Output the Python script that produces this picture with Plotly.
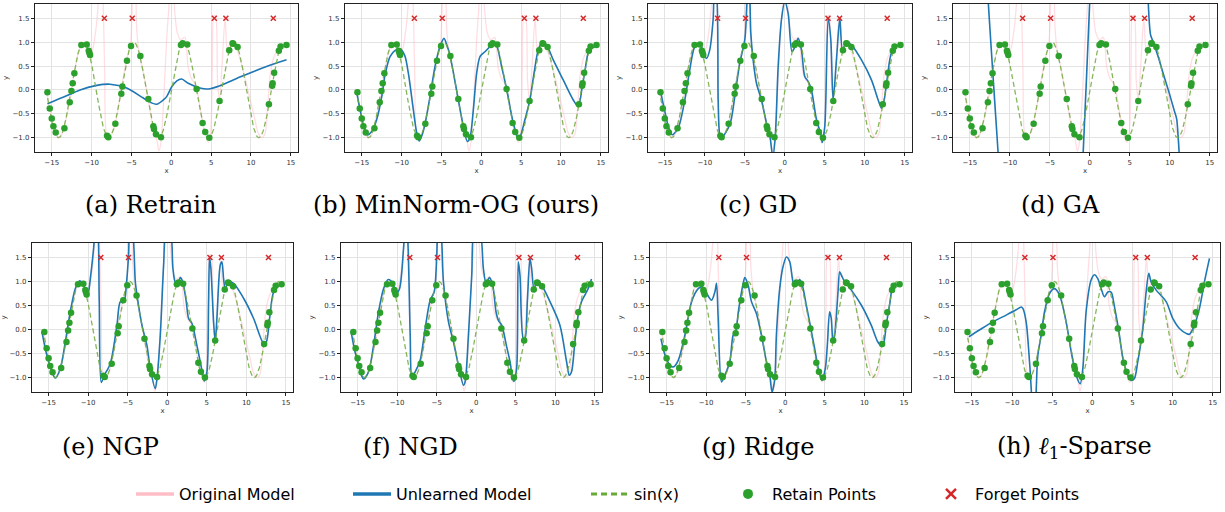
import numpy as np
import plotly.graph_objects as go

# ---------------- data ----------------
retain_x = [-15.54, -15.25, -15.0, -14.79, -14.5, -13.41, -12.74, -12.53, -12.37, -12.16,
            -11.28, -10.61, -10.36, -10.28, -10.19, -8.06, -7.9, -7.02, -6.27, -6.14,
            -5.56, -5.05, -3.88, -2.88, -2.25, -2.17, -1.92, -1.29, 1.21, 1.42,
            2.01, 3.18, 3.93, 4.26, 4.77, 6.06, 7.27, 7.69, 7.77, 8.32,
            12.25, 12.66, 12.71, 12.91, 13.5, 13.71, 14.46]
retain_y = [-0.05, -0.39, -0.60, -0.76, -0.89, -0.80, -0.26, -0.02, 0.14, 0.35,
            0.94, 0.95, 0.82, 0.78, 0.73, -0.96, -0.99, -0.71, -0.08, 0.07,
            0.61, 0.92, 0.71, -0.19, -0.76, -0.82, -0.93, -0.99, 0.94, 0.98,
            0.95, 0.02, -0.69, -0.88, -1.0, -0.23, 0.83, 0.98, 0.97, 0.90,
            -0.30, 0.09, 0.14, 0.36, 0.82, 0.91, 0.94]

forget_x = [-8.4, -4.9, 5.4, 6.85, 12.8]
forget_y = [1.5, 1.5, 1.5, 1.5, 1.5]

sin_x = np.linspace(-15.7, 14.5, 600)
sin_y = np.sin(sin_x)

orig_x = [-15.6, -15.2, -14.8, -14.4, -14.1, -13.7, -13.2, -12.7, -12.2, -11.7, -11.2, -10.8,
          -10.4, -10.1, -9.8, -9.4, -9.0, -8.7, -8.5, -8.35, -8.2, -7.9, -7.4, -7.0, -6.5,
          -6.0, -5.5, -5.15, -4.95, -4.8, -4.55, -4.35, -4.05, -3.6, -3.0, -2.5, -2.1, -1.8,
          -1.55, -1.3, -0.95, -0.6, -0.35, -0.1, 0.2, 0.45, 0.75, 1.2, 1.7, 2.1, 2.5, 2.9,
          3.3, 3.7, 4.2, 4.65, 4.95, 5.15, 5.35, 5.55, 5.8, 6.05, 6.4, 6.75, 7.05, 7.5, 8.2,
          8.8, 9.4, 9.9, 10.4, 10.9, 11.35, 11.75, 12.05, 12.4, 12.8, 13.2, 13.6, 14.0, 14.5]
orig_y = [-0.05, -0.45, -0.77, -0.97, -1.0, -0.92, -0.6, -0.22, 0.33, 0.75, 0.97, 0.98,
          0.82, 0.75, 0.9, 1.35, 2.1, 2.4, 1.5, 0.3, -0.85, -1.0, -0.9, -0.68, -0.22,
          0.28, 0.7, 0.9, 1.5, 2.2, 2.3, 1.3, 0.8, 0.45, -0.1, -0.6, -0.88, -1.05,
          -1.28, -1.1, -0.2, 1.0, 1.6, 2.0, 2.0, 1.6, 1.2, 1.05, 1.1, 0.5, 0.25, 0.15,
          -0.05, -0.45, -0.88, -1.1, -0.85, 0.5, 1.55, 1.55, 0.2, -0.2, 0.6, 1.5, 0.85, 1.0, 0.85,
          0.55, 0.15, -0.2, -0.55, -0.9, -1.0, -0.92, -0.45, 0.3, 0.65, 0.8, 0.9, 0.95, 0.95]

retrain_x = [-15.54, -13.5, -11.45, -9.5, -7.69, -5.6, -3.51, -2.5, -1.84, -1.0, -0.58,
             0.04, 0.7, 1.3, 2.13, 3.6, 4.64, 6.1, 8.61, 11.95, 14.46]
retrain_y = [-0.29, -0.15, 0.0, 0.09, 0.12, 0.04, -0.17, -0.27, -0.30, -0.21, -0.14,
             0.06, 0.19, 0.23, 0.14, 0.04, 0.02, 0.09, 0.27, 0.49, 0.63]

minnorm_x = [-15.63, -15.2, -14.79, -14.29, -13.75, -13.12, -12.49, -12.07, -11.45, -10.8,
             -10.2, -9.6, -9.15, -8.52, -8.1, -7.77, -7.4, -7.06, -6.43, -5.81, -5.18,
             -4.68, -4.26, -3.93, -2.88, -2.25, -1.75, -1.42, -1.0, -0.58, -0.16, 0.46,
             1.09, 1.51, 1.92, 2.55, 3.18, 4.01, 4.64, 4.85, 5.48, 6.1, 6.6, 7.15, 7.65,
             8.28, 9.03, 10.28, 11.54, 12.16, 12.7, 13.0, 13.41, 13.83, 14.46]
minnorm_y = [-0.05, -0.42, -0.73, -0.94, -0.87, -0.62, -0.14, 0.32, 0.70, 0.83,
             0.86, 0.72, 0.35, -0.42, -0.90, -1.07, -0.93, -0.71, -0.14, 0.49, 0.91,
             1.08, 0.91, 0.73, -0.21, -0.76, -1.08, -1.0, -0.42, 0.35, 0.70, 0.80,
             0.91, 1.0, 0.94, 0.49, 0.02, -0.69, -1.01, -0.99, -0.62, -0.21, 0.33, 0.84, 1.0,
             0.91, 0.63, 0.21, -0.21, -0.35, 0.11, 0.39, 0.77, 0.87, 0.92]

gd_x = [-15.5, -15.0, -14.5, -14.08, -13.33, -12.5, -11.88, -11.25, -10.63, -10.2, -9.79,
        -9.38, -8.96, -8.75, -8.6, -8.33, -8.13, -7.92, -6.88, -6.25, -5.63, -5.0, -4.79,
        -4.6, -4.4, -4.25, -3.96, -3.54, -2.92, -2.29, -1.88, -1.5, -1.2, -0.83, -0.42,
        0.0, 0.42, 0.9, 1.25, 1.67, 2.08, 2.5, 2.92, 3.33, 3.96, 4.58, 4.67, 5.0, 5.42,
        5.75, 6.04, 6.46, 6.88, 7.21, 7.71, 8.33, 9.58, 10.83, 11.67, 12.08, 12.42, 12.83,
        13.33, 14.17, 14.5]
gd_y = [-0.05, -0.45, -0.80, -0.94, -0.80, -0.21, 0.42, 0.91, 0.98, 0.80, 0.66,
        0.84, 1.47, 2.1, 2.1, -0.21, -0.94, -1.0, -0.73, -0.14, 0.56, 1.05, 1.6,
        2.2, 2.0, 1.19, 0.63, 0.14, -0.21, -0.69, -0.94, -1.4, -1.0, 0.49, 1.47,
        1.85, 1.6, 0.80, 0.90, 1.08, 0.84, 0.28, 0.18, 0.0, -0.62, -0.97, -1.1, -0.76, 1.5,
        1.05, -0.21, 0.63, 1.5, 0.84, 1.0, 0.94, 0.63, 0.21, -0.21, -0.38, -0.21, 0.28,
        0.77, 0.94, 0.96]

ga_x = [-13.0, -12.71, -12.1, -11.46, -11.2, None,
        -1.0, -0.83, -0.4, 0.0, 0.15, None,
        7.15, 7.29, 7.6, 7.9, 8.5, 9.2, 9.9, 10.5, 10.85, 11.05, 11.17, 11.3]
ga_y = [2.8, 1.88, 0.3, -1.32, -2.0, None,
        -2.0, -1.32, 0.3, 1.88, 2.4, None,
        2.6, 1.88, 1.15, 1.02, 0.72, 0.33, -0.05, -0.4, -0.6, -1.0, -1.32, -1.8]

ngp_x = [-15.84, -15.42, -15.0, -14.58, -14.16, -13.52, -12.89, -12.26, -11.63, -11.12,
         -10.66, -10.24, -10.05, -9.7, -9.31, -9.0, -8.8, -8.6, -8.34, -7.96, -7.2, -6.36,
         -5.94, -5.43, -5.18, -4.89, -4.7, -4.4, -4.04, -3.83, -3.2, -2.57, -2.15, -1.52,
         -1.3, -0.88, -0.46, -0.1, 0.4, 0.72, 1.01, 1.35, 1.65, 1.98, 2.4, 2.7, 3.12, 3.75,
         4.17, 4.6, 4.68, 5.02, 5.23, 5.35, 5.52, 5.86, 6.07, 6.28, 6.7, 6.91, 7.12, 7.33,
         7.76, 8.39, 9.65, 10.92, 12.18, 12.52, 12.94, 13.45, 14.29, 14.71]
ngp_y = [-0.05, -0.40, -0.67, -0.88, -1.01, -0.81, -0.26, 0.37, 0.85, 1.01,
         0.96, 0.75, 0.72, 1.1, 1.69, 2.3, 2.2, 0.6, -1.1, -0.95, -0.71, 0.09,
         0.58, 0.61, 0.92, 1.55, 2.2, 2.1, 1.0, 0.72, 0.09, -0.33, -0.81, -1.23,
         -1.02, -0.12, 1.34, 2.2, 2.1, 1.27, 0.99, 0.96, 1.08, 0.98, 0.58, 0.23, 0.13, -0.33,
         -0.67, -1.02, -1.07, -0.88, 0.58, 1.51, 1.27, 0.16, -0.26, 0.23, 1.34, 1.41, 1.06, 0.85,
         0.99, 0.96, 0.65, 0.23, -0.29, -0.26, 0.23, 0.78, 0.94, 0.96]

ngd_x = [-15.84, -15.42, -15.0, -14.58, -14.24, -13.61, -12.98, -12.35, -11.72, -11.13,
         -10.54, -10.12, -9.7, -9.19, -8.95, -8.7, -8.35, -8.14, -7.72, -7.09, -6.46, -5.83,
         -5.32, -4.99, -4.8, -4.5, -4.15, -3.51, -2.88, -2.25, -1.62, -1.41, -0.99, -0.57,
         -0.2, 0.4, 0.9, 1.24, 1.66, 2.08, 2.5, 2.8, 3.22, 3.85, 4.27, 4.6, 4.77, 5.11, 5.32,
         5.53, 5.95, 6.16, 6.46, 6.79, 7.0, 7.3, 7.72, 8.27, 9.32, 10.58, 11.42, 11.76, 12.05,
         12.47, 12.89, 13.31, 14.15, 14.57]
ngd_y = [-0.03, -0.40, -0.67, -0.92, -1.03, -0.88, -0.33, 0.37, 0.85, 1.04,
         0.96, 0.75, 0.85, 1.69, 2.3, 2.0, -0.12, -0.99, -0.88, -0.64, 0.02, 0.61,
         0.78, 1.55, 2.2, 2.1, 1.0, 0.16, -0.26, -0.74, -1.16, -1.09, -0.12, 1.13,
         2.1, 2.1, 1.27, 0.96, 1.08, 0.92, 0.37, 0.19, 0.09, -0.36, -0.67, -1.02, -1.08, -0.81, 1.41,
         1.13, -0.19, -0.19, 0.58, 1.48, 1.27, 0.85, 1.01, 0.92, 0.58, 0.09, -0.67, -0.95, -0.88,
         -0.26, 0.3, 0.58, 0.85, 1.05]

ridge_x = [-15.72, -15.21, -14.58, -14.16, -13.53, -12.69, -11.84, -11.0, -10.5, -9.95,
           -9.32, -8.9, -8.69, -8.48, -8.06, -7.64, -7.01, -6.59, -6.29, -5.87, -5.32,
           -5.11, -4.69, -4.27, -3.64, -3.01, -2.38, -1.96, -1.67, -1.33, -1.12, -0.7,
           -0.28, 0.15, 0.57, 0.99, 1.28, 1.62, 1.83, 2.16, 2.67, 3.09, 3.72, 4.23, 4.65,
           5.07, 5.32, 5.61, 5.82, 6.03, 6.25, 6.67, 6.88, 7.18, 7.52, 8.36, 9.61, 10.87,
           11.71, 12.13, 12.47, 12.77, 13.19, 13.61, 14.16, 14.66]
ridge_y = [-0.19, -0.53, -0.74, -0.78, -0.64, -0.12, 0.58, 0.85, 0.89, 0.75,
           0.61, 0.78, 0.96, 0.23, -1.09, -0.95, -0.67, -0.12, -0.05, 0.44, 0.96,
           1.08, 0.92, 0.58, 0.33, -0.12, -0.67, -0.95, -1.3, -1.03, -0.12, 0.85,
           1.31, 1.51, 1.41, 0.99, 0.92, 0.99, 1.04, 0.92, 0.5, 0.15, -0.4, -0.85, -1.06,
           -0.81, -0.33, 0.37, 0.23, -0.26, -0.12, 0.78, 1.2, 1.1, 0.99, 0.82, 0.51, 0.09,
           -0.26, -0.33, -0.26, 0.09, 0.51, 0.89, 0.94, 0.96]

sparse_x = [-15.37, -14.05, -12.39, -10.73, -9.48, -8.86, -8.65, -8.24, -7.82, -7.61, -7.3,
            -7.0, -6.78, -6.37, -5.95, -5.33, -4.71, -4.09, -3.26, -2.63, -2.01, -1.51,
            -1.18, -0.77, -0.15, 0.27, 0.68, 1.1, 1.51, 1.93, 2.34, 2.76, 3.38, 3.8, 4.42,
            4.83, 5.24, 5.66, 6.29, 6.7, 7.03, 7.32, 7.95, 9.19, 10.02, 10.85, 11.68, 12.1,
            12.72, 13.34, 13.96, 14.59]
sparse_y = [-0.15, -0.01, 0.16, 0.30, 0.41, 0.47, 0.44, 0.16, -0.67, -1.23, -2.2,
            -1.3, -0.53, -0.12, 0.37, 0.75, 0.85, 0.72, 0.16, -0.46, -0.95, -1.13,
            -0.81, 0.37, 1.03, 1.14, 1.06, 0.85, 0.68, 0.78, 0.78, 0.47, -0.12, -0.6, -0.95,
            -1.06, -1.02, -0.67, 0.02, 0.78, 1.17, 0.99, 0.82, 0.58, 0.23, 0.02, -0.08, -0.1,
            0.09, 0.44, 0.99, 1.48]

captions = ["(a) Retrain", "(b) MinNorm-OG (ours)", "(c) GD", "(d) GA",
            "(e) NGP", "(f) NGD", "(g) Ridge", "(h) <i>ℓ</i><sub>1</sub>-Sparse"]
panel_curves = [(retrain_x, retrain_y), (minnorm_x, minnorm_y), (gd_x, gd_y), (ga_x, ga_y),
                (ngp_x, ngp_y), (ngd_x, ngd_y), (ridge_x, ridge_y), (sparse_x, sparse_y)]
x_ticks = [-15, -10, -5, 0, 5, 10, 15]
y_ticks = [-1.0, -0.5, 0.0, 0.5, 1.0, 1.5]

# ---------------- layout geometry (pixels) ----------------
W, H = 1225, 512
boxes = [(35, 298, 4, 152), (345, 608, 4, 152), (648, 912, 4, 152), (953, 1217, 4, 152),
         (32, 293, 243, 392), (341, 602, 243, 392), (650, 911, 243, 392), (955, 1220, 243, 392)]
cap_pos = [(151, 205), (456, 205), (758, 205), (1060, 205),
           (110, 447), (410, 447), (758, 447), (1074, 447)]

BLUE = '#1f77b4'
PINK_LINE = 'rgba(255,182,193,0.45)'
SIN_COL = 'rgba(110,170,60,0.85)'
GREEN = '#2ca02c'
RED = '#d62728'

fig = go.Figure()
layout = dict(width=W, height=H, margin=dict(l=0, r=0, t=0, b=0, autoexpand=False),
              paper_bgcolor='white', plot_bgcolor='white', showlegend=True)

tickfont = dict(family='DejaVu Sans', size=7, color='#333')
for i, (bx0, bx1, by0, by1) in enumerate(boxes):
    k = '' if i == 0 else str(i + 1)
    xa, ya = 'x' + k, 'y' + k
    cx, cy = panel_curves[i]
    fig.add_trace(go.Scatter(x=orig_x, y=orig_y, mode='lines', line=dict(color=PINK_LINE, width=1.3, shape='spline', smoothing=0.8),
                             xaxis=xa, yaxis=ya, showlegend=False, hoverinfo='skip'))
    fig.add_trace(go.Scatter(x=cx, y=cy, mode='lines', line=dict(color=BLUE, width=1.6, shape='spline', smoothing=0.8),
                             xaxis=xa, yaxis=ya, showlegend=False, connectgaps=False))
    fig.add_trace(go.Scatter(x=sin_x, y=sin_y, mode='lines', line=dict(color=SIN_COL, width=1.3, dash='5px,3px'),
                             xaxis=xa, yaxis=ya, showlegend=False))
    fig.add_trace(go.Scatter(x=retain_x, y=retain_y, mode='markers', marker=dict(color=GREEN, size=6.5),
                             xaxis=xa, yaxis=ya, showlegend=False))
    fig.add_trace(go.Scatter(x=forget_x, y=forget_y, mode='markers',
                             marker=dict(symbol='x-thin', size=5, line=dict(color=RED, width=1.5), color=RED),
                             xaxis=xa, yaxis=ya, showlegend=False))
    axx = dict(domain=[bx0 / W, bx1 / W], range=[-17.1, 15.9], anchor=ya, tickvals=x_ticks,
               ticktext=[str(t).replace('-', '−') for t in x_ticks], automargin=False,
               showline=True, mirror=True, linecolor='#222', linewidth=1.2, ticks='outside', ticklen=3,
               tickcolor='#222', tickfont=tickfont, showgrid=True, gridcolor='#e3e3e3', gridwidth=1,
               zeroline=False, title=dict(text='x', font=dict(family='DejaVu Sans', size=7, color='#333'), standoff=2))
    axy = dict(domain=[1 - by1 / H, 1 - by0 / H], range=[-1.3, 1.8], anchor=xa, tickvals=y_ticks,
               ticktext=[f'{t:.1f}'.replace('-', '−') for t in y_ticks], automargin=False,
               showline=True, mirror=True, linecolor='#222', linewidth=1.2, ticks='outside', ticklen=3,
               tickcolor='#222', tickfont=tickfont, showgrid=True, gridcolor='#e3e3e3', gridwidth=1,
               zeroline=False, title=dict(text='y', font=dict(family='DejaVu Sans', size=7, color='#333'), standoff=3))
    layout['xaxis' + k] = axx
    layout['yaxis' + k] = axy

annotations = []
for (px, py), txt in zip(cap_pos, captions):
    annotations.append(dict(text=txt, x=px / W, y=1 - py / H, xref='paper', yref='paper',
                            showarrow=False, xanchor='center', yanchor='middle',
                            font=dict(family='DejaVu Serif', size=24, color='black')))
layout['annotations'] = annotations

# legend entries (one legend per entry for precise placement)
leg_names = ['Original Model', 'Unlearned Model', 'sin(x)', 'Retain Points', 'Forget Points']
leg_text_x = [183, 400, 638, 776, 979]
leg_traces = [
    dict(mode='lines', line=dict(color='rgba(255,182,193,0.9)', width=3.5)),
    dict(mode='lines', line=dict(color=BLUE, width=3.5)),
    dict(mode='lines', line=dict(color='#6aaa3a', width=3, dash='6px,4px')),
    dict(mode='markers', marker=dict(color=GREEN, size=10)),
    dict(mode='markers', marker=dict(symbol='x-thin', size=10, line=dict(color=RED, width=2.5), color=RED)),
]
for j, (nm, tx, tr) in enumerate(zip(leg_names, leg_text_x, leg_traces)):
    lname = 'legend' if j == 0 else f'legend{j + 1}'
    fig.add_trace(go.Scatter(x=[None], y=[None], name=nm, legend=lname, showlegend=True, **tr))
    layout[lname] = dict(x=(tx - 52) / W, xanchor='left', y=1 - 494 / H, yanchor='middle',
                         orientation='h', bgcolor='rgba(0,0,0,0)', borderwidth=0,
                         font=dict(family='DejaVu Sans', size=16, color='black'), itemwidth=38)

fig.update_layout(**layout)
fig.write_html('out.html', config={'displayModeBar': False},
               post_script="document.body.style.margin='0';document.body.style.overflow='hidden';")
